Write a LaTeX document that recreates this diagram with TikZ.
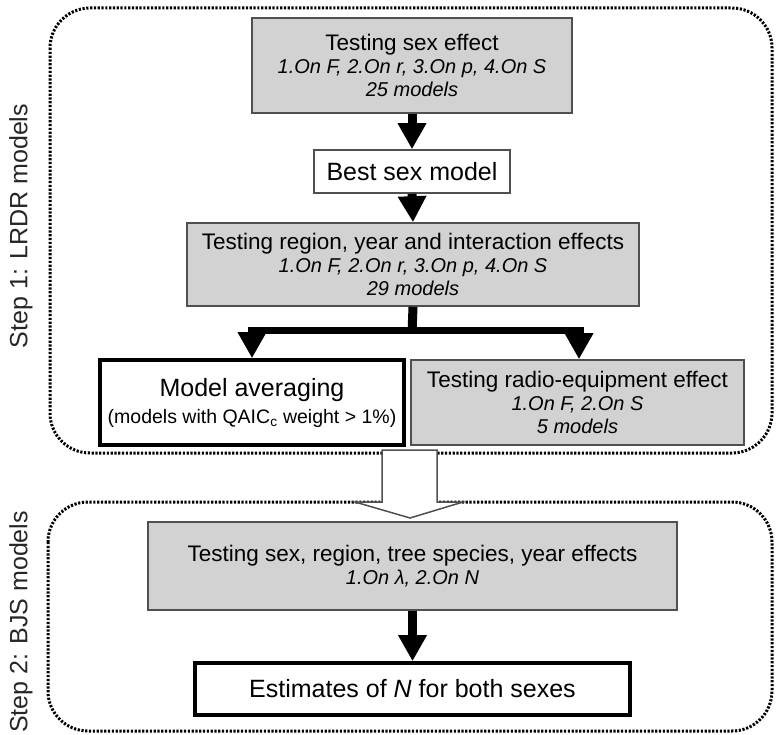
\documentclass[tikz,border=0pt]{standalone}
\usepackage{fontspec}
\setmainfont{Liberation Sans}
\usetikzlibrary{arrows.meta}
\definecolor{boxgray}{RGB}{210,210,210}
\definecolor{edgegray}{RGB}{80,80,80}
\newcommand\itsz{\fontsize{20}{23}\selectfont\itshape}
\begin{document}
\begin{tikzpicture}[x=1pt,y=-1pt,
  graybox/.style={draw=edgegray, fill=boxgray, line width=1.6pt, align=center, inner sep=0pt, font=\fontsize{22.5}{23}\selectfont},
  whitebox/.style={draw=edgegray, fill=white, line width=1.6pt, align=center, inner sep=0pt, font=\fontsize{25}{27}\selectfont},
  thickbox/.style={draw=black, fill=white, line width=3.6pt, align=center, inner sep=0pt, font=\fontsize{25}{27}\selectfont},
  stepframe/.style={draw=black, line width=3pt, dash pattern=on 2.2pt off 1.6pt, rounded corners=40pt},
  bigarrow/.style={line width=9pt, -{Triangle[width=27pt,length=26pt]}},
  steplabel/.style={rotate=90, font=\fontsize{25}{27}\selectfont, text=black!85},
  hollow/.style={draw=edgegray, fill=white, line width=1.5pt, line join=miter}
]
\useasboundingbox (0,0) rectangle (776,735);

% step frames
\draw[stepframe] (50,8) rectangle (772,453);
\draw[stepframe] (48,502) rectangle (772,731);

% step labels
\node[steplabel] (lab1) at (21,226) {Step 1: LRDR models};
\node[steplabel] (lab2) at (21,622) {Step 2: BJS models};

% hollow arrow between steps
\draw[hollow] (382,450) -- (437,450) -- (437,502) -- (463,502) -- (410,518) -- (355,502) -- (382,502) -- cycle;

% boxes
\node[graybox, minimum width=320pt, minimum height=95pt] (t1) at (412,65.5)
  {Testing sex effect\\ {\itsz 1.On F, 2.On r, 3.On p, 4.On S}\\ {\itsz 25 models}};
\node[whitebox, minimum width=196pt, minimum height=43pt] (best) at (412,171.5) {Best sex model};
\node[graybox, minimum width=452pt, minimum height=83pt] (reg) at (413,264.5)
  {Testing region, year and interaction effects\\ {\itsz 1.On F, 2.On r, 3.On p, 4.On S}\\ {\itsz 29 models}};
\node[thickbox, minimum width=304pt, minimum height=85pt] (avg) at (252,402.5)
  {Model averaging\\ {\fontsize{19.5}{27}\selectfont (models with QAIC\textsubscript{c} weight > 1\%)}};
\node[graybox, minimum width=333pt, minimum height=85pt] (radio) at (577.5,402.5)
  {Testing radio-equipment effect\\ {\itsz 1.On F, 2.On S}\\ {\itsz 5 models}};
\node[graybox, minimum width=529pt, minimum height=88pt] (bjs) at (412.5,566)
  {Testing sex, region, tree species, year effects\\ {\itsz 1.On λ, 2.On N}};
\node[thickbox, minimum width=435pt, minimum height=52pt] (est) at (412.5,689)
  {Estimates of \textit{N} for both sexes};

% connectors
\draw[bigarrow] (t1.south) -- (best.north);
\draw[bigarrow] (best.south) -- (reg.north);
\coordinate (split) at (412,330);
\coordinate (sl) at (252,330);
\coordinate (sr) at (579,330);
\draw[line width=9pt] (reg.south) -- ([yshift=-3.5pt]split);
\draw[line width=7pt] ([xshift=-4.5pt]sl) -- ([xshift=4.5pt]sr);
\draw[bigarrow] (sl) -- (sl |- avg.north);
\draw[bigarrow] (sr) -- (sr |- radio.north);
\draw[bigarrow] (bjs.south) -- (est.north);
\end{tikzpicture}
\end{document}
